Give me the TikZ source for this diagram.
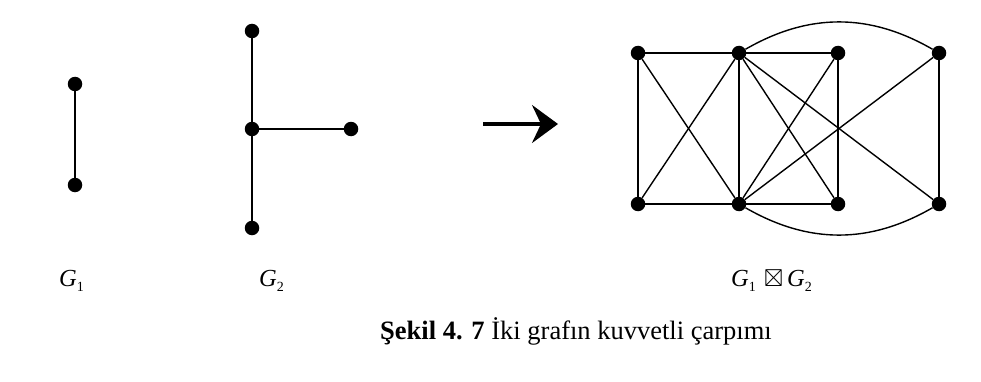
\documentclass[tikz,border=0pt]{standalone}
\usepackage{amssymb}
\usepackage{fontspec}
\setmainfont{Liberation Serif}
\usetikzlibrary{arrows.meta}
\tikzset{
  vtx/.style={circle,fill=black,inner sep=0pt,minimum size=14.5pt},
  edge/.style={line width=1.4pt,black},
  lbl/.style={anchor=base west,inner sep=0pt,font=\fontsize{24.5}{28}\selectfont},
}
\newcommand{\gsub}[1]{{\itshape G}\raisebox{-0.22em}{\fontsize{14}{16}\selectfont #1}}
\begin{document}
\begin{tikzpicture}[x=1pt,y=1pt]
\useasboundingbox (0,0) rectangle (981,381);
% G1
\node[vtx] (u) at (75,297) {};
\node[vtx] (v) at (75,196) {};
\draw[edge] (u) -- (v);
% G2
\node[vtx] (t) at (252,350) {};
\node[vtx] (c) at (252,252) {};
\node[vtx] (d) at (252,153) {};
\node[vtx] (r) at (351,252) {};
\draw[edge] (t) -- (c) -- (d);
\draw[edge] (c) -- (r);
% arrow
\coordinate (as) at (483,257);
\coordinate (ae) at (558,257);
\draw[line width=3.5pt,-{Stealth[length=26pt,width=38pt,inset=9pt]}] (as) -- (ae);
% product
\node[vtx] (a1) at (638,328) {};
\node[vtx] (a2) at (739,328) {};
\node[vtx] (a3) at (838,328) {};
\node[vtx] (a4) at (939,328) {};
\node[vtx] (b1) at (638,177) {};
\node[vtx] (b2) at (739,177) {};
\node[vtx] (b3) at (838,177) {};
\node[vtx] (b4) at (939,177) {};
\draw[edge] (a1) -- (a2) -- (a3);
\draw[edge] (b1) -- (b2) -- (b3);
\draw[edge] (a1) -- (b1);
\draw[edge] (a2) -- (b2);
\draw[edge] (a3) -- (b3);
\draw[edge] (a4) -- (b4);
\draw[edge] (a1) -- (b2);
\draw[edge] (b1) -- (a2);
\draw[edge] (a2) -- (b3);
\draw[edge] (b2) -- (a3);
\draw[edge] (a2) -- (b4);
\draw[edge] (b2) -- (a4);
\draw[edge] (a2) to[bend left=30] (a4);
\draw[edge] (b2) to[bend right=30] (b4);
% labels
\node[lbl] (l1) at (59,95) {\gsub{1}};
\node[lbl] (l2) at (259,95) {\gsub{2}};
\node[lbl] (l3) at (731,95) {\gsub{1}\,\,$\boxtimes$\,\gsub{2}};
\node[lbl,font=\fontsize{26.5}{30}\selectfont] (cap) at (380,42) {\textbf{Şekil 4. 7} İki grafın kuvvetli çarpımı};
\end{tikzpicture}
\end{document}
